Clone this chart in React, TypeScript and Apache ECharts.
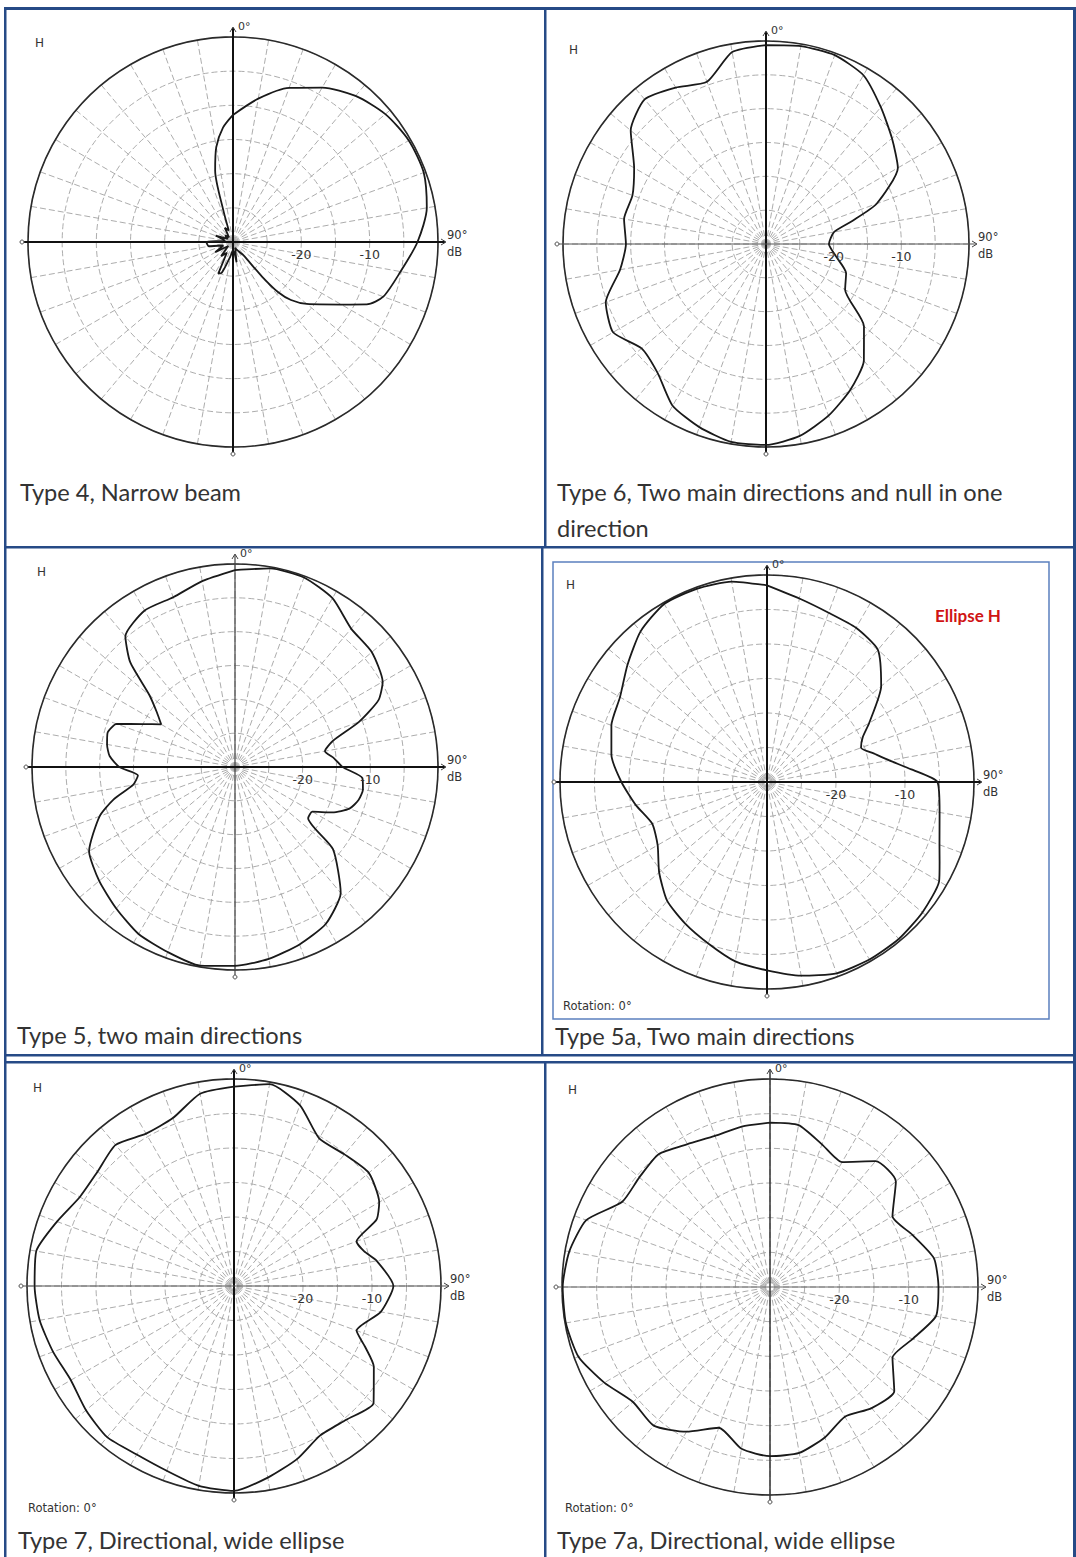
import React, { useEffect, useRef } from "react";
import * as echarts from "echarts";

const PAGE_W = 1076;
const PAGE_H = 1557;

// ---------- data (compass angle in degrees, level in dB, -30 at centre, 0 at rim) ----------
const ANG_T4 = [0, 10, 20, 30, 40, 50, 60, 70, 80, 90, 100, 110, 115, 120, 130, 135, 138, 140, 142, 150, 160, 170, 180, 190, 200, 205, 210, 220, 230, 240, 250, 260, 270, 280, 290, 300, 310, 320, 330, 340, 343, 346, 350, 355];
const DB_T4 = [-11.4, -8.7, -6.0, -3.9, -2.1, -0.9, -0.3, -0.3, -1.2, -3.0, -5.1, -6.6, -8.4, -11.7, -15.9, -18.0, -20.1, -23.4, -27.6, -28.5, -29.1, -27.0, -28.8, -27.9, -25.2, -24.9, -28.2, -27.3, -29.1, -27.0, -28.5, -26.4, -26.1, -28.8, -27.3, -29.1, -28.5, -29.1, -27.6, -28.2, -25.2, -19.2, -15.9, -13.2];

const ANG_T6 = [0, 10, 20, 30, 40, 50, 60, 70, 75, 80, 90, 100, 110, 120, 130, 140, 150, 160, 170, 180, 190, 200, 210, 220, 230, 240, 250, 260, 270, 280, 290, 300, 310, 320, 330, 340, 350];
const DB_T6 = [-0.6, -0.3, -0.3, -1.2, -3.6, -5.7, -7.5, -12.6, -16.8, -19.8, -20.7, -19.5, -17.4, -16.5, -11.1, -7.5, -5.1, -3.0, -1.2, -0.3, -0.3, -1.2, -2.4, -5.1, -6.0, -3.9, -4.8, -8.1, -9.3, -8.7, -9.0, -7.5, -3.9, -2.1, -3.3, -4.5, -1.2];

const ANG_T5 = [0, 10, 20, 30, 40, 50, 60, 65, 70, 75, 80, 85, 90, 95, 100, 105, 110, 115, 120, 125, 130, 140, 150, 160, 170, 180, 190, 200, 210, 220, 230, 240, 250, 255, 260, 265, 270, 275, 280, 285, 290, 295, 300, 305, 310, 315, 320, 330, 340, 350];
const DB_T5 = [-0.9, -0.2, -0.2, -1.2, -3.3, -3.6, -4.8, -6.6, -10.5, -15.0, -16.5, -15.3, -14.1, -11.1, -10.8, -11.1, -12.0, -14.1, -16.8, -16.8, -11.1, -5.7, -3.2, -2.1, -1.2, -0.6, -0.2, -0.9, -1.5, -2.7, -3.8, -5.1, -8.7, -11.4, -14.7, -15.6, -12.9, -11.4, -10.8, -10.5, -11.4, -15.0, -17.4, -15.9, -13.5, -8.1, -4.8, -3.3, -3.3, -2.1];

const ANG_T5A = [0, 10, 20, 30, 40, 50, 60, 65, 70, 75, 80, 85, 90, 100, 110, 115, 120, 130, 140, 150, 160, 170, 180, 190, 200, 210, 220, 230, 240, 250, 260, 270, 280, 290, 300, 310, 320, 330, 340, 350];
const DB_T5A = [-1.5, -3.0, -3.9, -4.2, -5.0, -8.4, -12.9, -14.7, -15.5, -14.0, -12.0, -9.0, -5.3, -4.6, -3.4, -2.4, -1.2, -0.6, -0.3, -0.3, -0.5, -1.5, -2.7, -3.6, -5.1, -6.3, -7.5, -9.6, -11.7, -12.3, -10.7, -8.9, -7.1, -6.0, -5.4, -3.6, -1.5, -0.2, -0.2, -0.5];

const ANG_T7 = [0, 10, 20, 30, 40, 50, 60, 65, 70, 75, 80, 90, 100, 110, 115, 120, 130, 140, 150, 160, 170, 180, 190, 200, 210, 220, 230, 240, 250, 260, 270, 280, 290, 300, 310, 320, 330, 340, 350];
const DB_T7 = [-1.1, -0.3, -2.1, -5.3, -5.1, -4.5, -5.7, -7.2, -11.1, -10.5, -9.0, -6.9, -8.4, -11.1, -9.0, -6.6, -3.6, -4.7, -5.0, -3.3, -1.8, -0.3, -0.6, -1.5, -1.8, -1.4, -2.0, -2.7, -2.1, -1.4, -1.1, -0.9, -2.7, -4.2, -4.2, -3.3, -4.5, -4.1, -1.7];

const ANG_T7A = [0, 10, 20, 30, 40, 50, 60, 70, 80, 90, 100, 110, 120, 130, 140, 150, 160, 170, 180, 190, 200, 210, 220, 230, 240, 250, 260, 270, 280, 290, 300, 310, 320, 330, 340, 350];
const DB_T7A = [-6.3, -6.3, -8.1, -9.2, -6.3, -6.3, -9.6, -8.1, -6.0, -5.7, -5.7, -8.1, -9.6, -6.6, -7.2, -8.4, -6.9, -5.7, -5.6, -6.3, -8.4, -5.9, -3.9, -4.2, -2.4, -0.6, -0.1, -0.1, -0.6, -1.8, -5.4, -5.4, -5.0, -6.2, -6.8, -6.5];

const RADIUS_TICK_LABELS = ["-20", "-10"];
const RADIUS_TICK_VALUES = [-20, -10];

const CAPTION_T4 = ["Type 4, Narrow beam"];
const CAPTION_T6 = ["Type 6, Two main directions and null in one", "direction"];
const CAPTION_T5 = ["Type 5, two main directions"];
const CAPTION_T5A = ["Type 5a, Two main directions"];
const CAPTION_T7 = ["Type 7, Directional, wide ellipse"];
const CAPTION_T7A = ["Type 7a, Directional, wide ellipse"];

// ---------- layout ----------
type Panel = {
  angles: number[];
  values: number[];
  cx: number;
  cy: number;
  r: number;
  caption: string[];
  capX: number;
  capY: number;
  hX: number;
  hY: number;
  vW: number;
  vC: string;
  hW: number;
  hC: string;
  rotation: [number, number] | null;
  smooth: number | boolean;
};

const PANELS: Panel[] = [
  { angles: ANG_T4, values: DB_T4, cx: 233, cy: 242, r: 205, caption: CAPTION_T4, capX: 20, capY: 492, hX: 35, hY: 43, vW: 2, vC: "#111", hW: 2, hC: "#111", rotation: null, smooth: 0.25 },
  { angles: ANG_T6, values: DB_T6, cx: 766, cy: 244, r: 203, caption: CAPTION_T6, capX: 557, capY: 492, hX: 569, hY: 50, vW: 2, vC: "#111", hW: 1, hC: "#555", rotation: null, smooth: 0.2 },
  { angles: ANG_T5, values: DB_T5, cx: 235, cy: 767, r: 203, caption: CAPTION_T5, capX: 17, capY: 1035, hX: 37, hY: 572, vW: 1.2, vC: "#444", hW: 2, hC: "#111", rotation: null, smooth: 0.2 },
  { angles: ANG_T5A, values: DB_T5A, cx: 767, cy: 782, r: 207, caption: CAPTION_T5A, capX: 555, capY: 1036, hX: 566, hY: 585, vW: 2, vC: "#111", hW: 2, hC: "#111", rotation: [563, 1006], smooth: 0.2 },
  { angles: ANG_T7, values: DB_T7, cx: 234, cy: 1286, r: 207, caption: CAPTION_T7, capX: 18, capY: 1540, hX: 33, hY: 1088, vW: 2, vC: "#111", hW: 1.2, hC: "#555", rotation: [28, 1508], smooth: 0.2 },
  { angles: ANG_T7A, values: DB_T7A, cx: 770, cy: 1287, r: 208, caption: CAPTION_T7A, capX: 557, capY: 1540, hX: 568, hY: 1090, vW: 1.5, vC: "#333", hW: 1, hC: "#666", rotation: [565, 1508], smooth: 0.2 },
];

const BORDER = "#264a86";
const GRID = "#a3a3a3";
const SMALL_FONT = "DejaVu Sans";
const CAPTION_FONT = "Lato";

function text(x: number, y: number, t: string, size: number, opts: any = {}) {
  return {
    type: "text",
    x,
    y,
    z: 20,
    silent: true,
    style: {
      text: t,
      fontSize: size,
      fontFamily: opts.family || SMALL_FONT,
      fontWeight: opts.weight || "normal",
      fill: opts.fill || "#333",
      align: opts.align || "left",
      verticalAlign: "middle",
    },
  };
}

function bar(x: number, y: number, w: number, h: number, fill = BORDER) {
  return { type: "rect", z: 1, silent: true, shape: { x, y, width: w, height: h }, style: { fill } };
}

function buildGraphic() {
  const g: any[] = [];
  // table borders
  g.push(bar(4, 7, 1072, 3));
  g.push(bar(4, 7, 2.5, 1550));
  g.push(bar(1073, 7, 3, 1550));
  g.push(bar(4, 546, 1072, 2.5));
  g.push(bar(544, 7, 2.5, 541));
  g.push(bar(541, 547, 2.5, 509));
  g.push(bar(4, 1054, 1072, 2.5));
  g.push(bar(4, 1061, 1072, 2.5));
  g.push(bar(544, 1061, 2.5, 496));
  // inner frame of type 5a
  g.push({ type: "rect", z: 1, silent: true, shape: { x: 553, y: 562, width: 496, height: 457 }, style: { fill: "none", stroke: "#5b80be", lineWidth: 1.5 } });
  g.push(text(935, 615, "Ellipse H", 17, { family: CAPTION_FONT, weight: "bold", fill: "#d01414" }));

  PANELS.forEach((p) => {
    const { cx, cy, r } = p;
    // crosshair
    g.push({ type: "line", z: 6, silent: true, shape: { x1: cx, y1: cy - r - 9, x2: cx, y2: cy + r + 6 }, style: { stroke: p.vC, lineWidth: p.vW } });
    g.push({ type: "line", z: 6, silent: true, shape: { x1: cx - r - 5, y1: cy, x2: cx + r + 7, y2: cy }, style: { stroke: p.hC, lineWidth: p.hW } });
    // end marks
    g.push({ type: "polyline", z: 6, silent: true, shape: { points: [[cx - 3, cy - r - 5], [cx, cy - r - 10], [cx + 3, cy - r - 5]] }, style: { stroke: "#444", lineWidth: 1, fill: "none" } });
    g.push({ type: "polyline", z: 6, silent: true, shape: { points: [[cx + r + 3, cy - 3], [cx + r + 8, cy], [cx + r + 3, cy + 3]] }, style: { stroke: "#444", lineWidth: 1, fill: "none" } });
    g.push({ type: "circle", z: 6, silent: true, shape: { cx: cx - r - 6, cy, r: 2 }, style: { stroke: "#555", lineWidth: 1, fill: "#fff" } });
    g.push({ type: "circle", z: 6, silent: true, shape: { cx, cy: cy + r + 7, r: 2 }, style: { stroke: "#555", lineWidth: 1, fill: "#fff" } });
    // labels
    g.push(text(cx + 5, cy - r - 11, "0°", 11));
    g.push(text(cx + r + 9, cy - 7, "90°", 11.5));
    g.push(text(cx + r + 9, cy + 10, "dB", 11.5));
    RADIUS_TICK_VALUES.forEach((v, i) => {
      g.push(text(cx + ((v + 30) / 30) * r, cy + 12, RADIUS_TICK_LABELS[i], 12.5, { align: "center" }));
    });
    g.push(text(p.hX, p.hY, "H", 12));
    if (p.rotation) g.push(text(p.rotation[0], p.rotation[1], "Rotation: 0°", 11.5));
    p.caption.forEach((line, i) => {
      g.push(text(p.capX, p.capY + i * 36, line, 23.6, { family: CAPTION_FONT, fill: "#333" }));
    });
  });
  return g;
}

function buildOption() {
  return {
    animation: false,
    backgroundColor: "#fff",
    polar: PANELS.map((p) => ({ center: [p.cx, p.cy], radius: p.r })),
    angleAxis: PANELS.map((p, i) => ({
      polarIndex: i,
      type: "value",
      min: 0,
      max: 360,
      interval: 10,
      startAngle: 90,
      clockwise: true,
      z: 2,
      axisLine: { show: true, lineStyle: { color: "#2a2a2a", width: 1.6 } },
      axisTick: { show: false },
      axisLabel: { show: false },
      splitLine: { show: true, lineStyle: { color: GRID, width: 0.9, type: [6, 3] } },
    })),
    radiusAxis: PANELS.map((p, i) => ({
      polarIndex: i,
      type: "value",
      min: -30,
      max: 0,
      interval: 5,
      z: 2,
      axisLine: { show: false },
      axisTick: { show: false },
      axisLabel: { show: false },
      splitLine: { show: true, lineStyle: { color: GRID, width: 0.9, type: [6, 3] } },
    })),
    series: PANELS.map((p, i) => ({
      type: "line",
      coordinateSystem: "polar",
      polarIndex: i,
      data: [...p.values.map((v, j) => [v, p.angles[j]]), [p.values[0], 360]],
      showSymbol: false,
      symbol: "none",
      smooth: p.smooth,
      silent: true,
      z: 8,
      lineStyle: { color: "#1a1a1a", width: 1.8 },
    })),
    graphic: buildGraphic(),
  };
}

export default function App() {
  const ref = useRef<HTMLDivElement>(null);
  useEffect(() => {
    if (!ref.current) return;
    const chart = echarts.init(ref.current, null, { renderer: "svg", width: PAGE_W, height: PAGE_H });
    chart.setOption(buildOption() as any);
    return () => chart.dispose();
  }, []);
  return (
    <div
      ref={ref}
      style={{ position: "absolute", left: 0, top: 0, width: PAGE_W, height: PAGE_H, background: "#fff" }}
    />
  );
}
